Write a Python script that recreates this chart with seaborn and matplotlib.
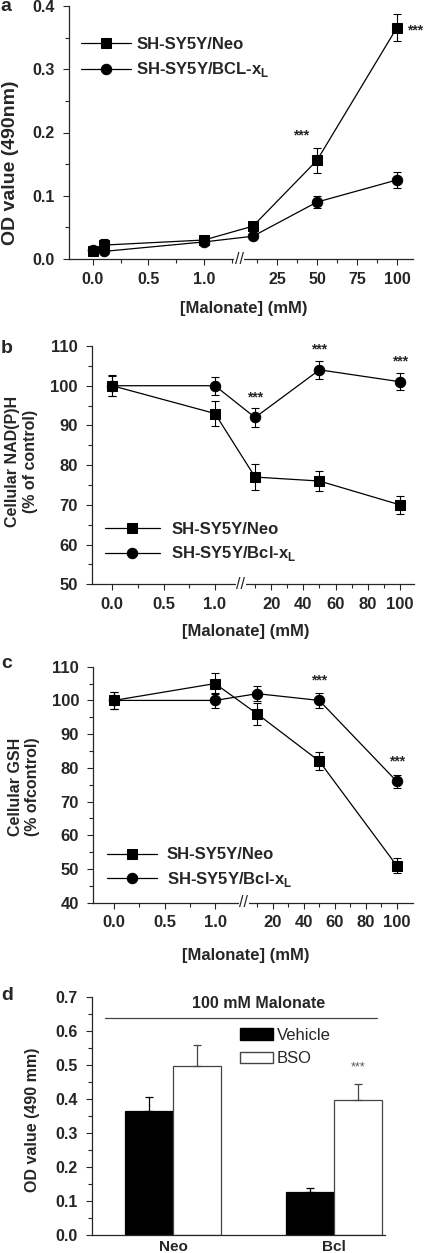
import numpy as np
import pandas as pd
import matplotlib
matplotlib.use("Agg")
import matplotlib.pyplot as plt
import seaborn as sns
from matplotlib.patches import Patch

# ---- values ----
# panel a: OD value (490 nm)
conc_a = [0.0, 0.1, 1.0, 10.0, 50.0, 100.0]
neo_a = [0.012, 0.022, 0.030, 0.052, 0.156, 0.366]
neo_a_sem = [0.003, 0.009, 0.003, 0.004, 0.020, 0.022]
bcl_a = [0.015, 0.012, 0.027, 0.036, 0.090, 0.125]
bcl_a_sem = [0.003, 0.003, 0.003, 0.003, 0.010, 0.013]

# panels b and c share the concentrations
conc_bc = [0.0, 1.0, 10.0, 50.0, 100.0]
neo_b = [100, 93, 77, 76, 70]
neo_b_sem = [2.6, 3.2, 3.2, 2.6, 2.3]
bcl_b = [100, 100, 92, 104, 101]
bcl_b_sem = [2.5, 2.3, 2.3, 2.3, 2.1]

neo_c = [100, 105, 96, 82, 51]
neo_c_sem = [2.5, 3.2, 3.2, 2.6, 2.3]
bcl_c = [100, 100, 102, 100, 76]
bcl_c_sem = [2.5, 2.3, 2.3, 2.3, 2.0]

# panel d: 100 mM malonate, vehicle vs BSO
cells_d = ["Neo", "Bcl"]
vehicle_d = [0.365, 0.125]
vehicle_d_sem = [0.040, 0.012]
bso_d = [0.496, 0.397]
bso_d_sem = [0.062, 0.047]

# tick labels
ticks_a = [0.0, 0.5, 1.0, 25, 50, 75, 100]
ticklabels_a = ["0.0", "0.5", "1.0", "25", "50", "75", "100"]
minor_a = [0.25, 0.75, 1.25, 12.5, 37.5, 62.5, 87.5]
ticks_bc = [0.0, 0.5, 1.0, 20, 40, 60, 80, 100]
ticklabels_bc = ["0.0", "0.5", "1.0", "20", "40", "60", "80", "100"]
minor_bc = [0.25, 0.75, 1.25, 10, 30, 50, 70, 90]

sns.set_style("ticks")
plt.rcParams["font.family"] = ["Liberation Sans", "DejaVu Sans"]
plt.rcParams["font.weight"] = "bold"
plt.rcParams["axes.labelweight"] = "bold"
plt.rcParams["mathtext.fontset"] = "custom"
plt.rcParams["mathtext.bf"] = "Liberation Sans:bold"
plt.rcParams["mathtext.rm"] = "Liberation Sans:bold"
plt.rcParams["axes.linewidth"] = 0.9
plt.rcParams["xtick.major.width"] = 0.8
plt.rcParams["ytick.major.width"] = 0.8
plt.rcParams["xtick.minor.width"] = 0.8
plt.rcParams["ytick.minor.width"] = 0.8

W, H = 425, 1253
fig = plt.figure(figsize=(W / 100, H / 100), dpi=100)


def px_axes(x0, y0, x1, y1):
    return fig.add_axes([x0 / W, 1 - y1 / H, (x1 - x0) / W, (y1 - y0) / H])


def broken_scale(p0, k0, p1, k1):
    # two linear pieces (low doses / high doses) joined at the axis break
    brk = (p1 - p0) / (k0 - k1)
    pb = p0 + k0 * brk

    def fwd(x):
        x = np.asarray(x, dtype=float)
        return np.where(x <= brk, p0 + k0 * x, p1 + k1 * x)

    def inv(p):
        p = np.asarray(p, dtype=float)
        return np.where(p <= pb, (p - p0) / k0, (p - p1) / k1)

    return fwd, inv, brk


def dose_panel(ax, conc, neo, neo_sem, bcl, bcl_sem, bcl_label, scale, xlim,
               ylim, yticks, yminor, yfmt, ticks, ticklabels, minor, tsize):
    for y, err, m, lab in [(neo, neo_sem, "s", "SH-SY5Y/Neo"),
                           (bcl, bcl_sem, "o", bcl_label)]:
        ax.errorbar(conc, y, yerr=err, fmt="none", ecolor="black",
                    elinewidth=0.8, capsize=2.8, capthick=0.8, zorder=2)
        sns.lineplot(x=conc, y=y, marker=m, markersize=7.5, color="black",
                     markeredgecolor="black", linewidth=0.9, label=lab, ax=ax,
                     zorder=3)
    fwd, inv, brk = scale
    ax.set_xscale("function", functions=(fwd, inv))
    ax.set_xlim(*xlim)
    ax.set_ylim(*ylim)
    ax.set_xticks(ticks)
    ax.set_xticklabels(ticklabels)
    ax.set_xticks(minor, minor=True)
    ax.set_yticks(yticks)
    ax.set_yticklabels([yfmt.format(v) for v in yticks])
    ax.set_yticks(yminor, minor=True)
    ax.tick_params(axis="both", which="major", length=4, labelsize=tsize)
    ax.tick_params(axis="both", which="minor", length=3)
    ax.tick_params(axis="x", pad=5)
    ax.tick_params(axis="y", pad=6)
    sns.despine(ax=ax)
    ax.text(brk, 0, "//", transform=ax.get_xaxis_transform(), ha="center",
            va="center", fontsize=11.5, fontweight="normal", zorder=10,
            clip_on=False, bbox=dict(fc="white", ec="none", pad=0.2))
    ax.set_xlabel("[Malonate] (mM)", fontsize=12)


def stars(ax, x, y, dx=0, dy=14.5, **kw):
    ax.annotate("***", (x, y), xytext=(dx, dy), textcoords="offset points",
                ha="center", va="center", fontsize=10, fontweight="bold", **kw)


# ---- panel a ----
ax_a = px_axes(69, 6, 413, 259)
dose_panel(ax_a, conc_a, neo_a, neo_a_sem, bcl_a, bcl_a_sem,
           r"SH-SY5Y/BCL-x$_{\mathbf{L}}$", broken_scale(92.7, 111.3, 237, 1.6),
           (-0.213, 110), (0, 0.4), [0, 0.1, 0.2, 0.3, 0.4],
           [0.05, 0.15, 0.25, 0.35], "{:.1f}", ticks_a, ticklabels_a, minor_a,
           11.5)
ax_a.set_ylabel("OD value (490nm)", fontsize=14)
ax_a.yaxis.set_label_coords(-0.146, 0.38)
ax_a.xaxis.set_label_coords(0.509, -0.165)
ax_a.legend(loc="upper left", bbox_to_anchor=(0.035, 0.877), frameon=False,
            fontsize=12, handlelength=3.0, handletextpad=0.3, labelspacing=0.5,
            borderpad=0, borderaxespad=0)
stars(ax_a, conc_a[4], neo_a[4], dx=-11.5, dy=18)
stars(ax_a, conc_a[5], neo_a[5], dx=13, dy=-2)

# ---- panel b ----
ax_b = px_axes(91.7, 346, 414, 584.3)
dose_panel(ax_b, conc_bc, neo_b, neo_b_sem, bcl_b, bcl_b_sem,
           r"SH-SY5Y/Bcl-x$_{\mathbf{L}}$", broken_scale(112.3, 102.7, 239, 1.61),
           (-0.2, 108.7), (50, 110), list(range(50, 111, 10)),
           list(range(55, 110, 10)), "{:d}", ticks_bc, ticklabels_bc, minor_bc,
           12)
ax_b.set_ylabel("Cellular NAD(P)H\n(% of control)", fontsize=11.5)
ax_b.yaxis.set_label_coords(-0.167, 0.514)
ax_b.xaxis.set_label_coords(0.479, -0.167)
ax_b.legend(loc="upper left", bbox_to_anchor=(0.04, 0.262), frameon=False,
            fontsize=12, handlelength=3.3, handletextpad=0.7, labelspacing=0.45,
            borderpad=0, borderaxespad=0)
for i in (2, 3, 4):
    stars(ax_b, conc_bc[i], bcl_b[i])

# ---- panel c ----
ax_c = px_axes(93, 666.7, 412.7, 902.7)
dose_panel(ax_c, conc_bc, neo_c, neo_c_sem, bcl_c, bcl_c_sem,
           r"SH-SY5Y/Bcl-x$_{\mathbf{L}}$", broken_scale(114, 101, 241.7, 1.55),
           (-0.208, 110.3), (40, 110), list(range(40, 111, 10)),
           list(range(45, 110, 10)), "{:d}", ticks_bc, ticklabels_bc, minor_bc,
           12)
ax_c.set_ylabel("Cellular GSH\n(% ofcontrol)", fontsize=11.5)
ax_c.yaxis.set_label_coords(-0.166, 0.49)
ax_c.xaxis.set_label_coords(0.478, -0.19)
ax_c.legend(loc="upper left", bbox_to_anchor=(0.045, 0.234), frameon=False,
            fontsize=12, handlelength=2.95, handletextpad=0.6, labelspacing=0.45,
            borderpad=0, borderaxespad=0)
for i in (3, 4):
    stars(ax_c, conc_bc[i], bcl_c[i])

# ---- panel d ----
ax_d = px_axes(92, 997.3, 385, 1234.7)
df_d = pd.DataFrame({
    "cells": cells_d * 2,
    "treatment": ["Vehicle"] * 2 + ["BSO"] * 2,
    "od": vehicle_d + bso_d,
})
sns.barplot(data=df_d, x="cells", y="od", hue="treatment",
            palette={"Vehicle": "black", "BSO": "white"}, saturation=1,
            width=0.6, errorbar=None, legend=False, ax=ax_d)
edge = {"Vehicle": "black", "BSO": "#444444"}
for cont, name, sem in zip(ax_d.containers, ["Vehicle", "BSO"],
                           [vehicle_d_sem, bso_d_sem]):
    xs, hs = [], []
    for bar in cont:
        bar.set_edgecolor(edge[name])
        bar.set_linewidth(0.9)
        xs.append(bar.get_x() + bar.get_width() / 2)
        hs.append(bar.get_height())
    ax_d.errorbar(xs, hs, yerr=[np.zeros(len(sem)), sem], fmt="none",
                  ecolor=edge[name], elinewidth=0.9, capsize=2.8, capthick=0.9,
                  zorder=1)
    if name == "BSO":
        ax_d.annotate("***", (xs[1], hs[1] + sem[1]), xytext=(0, 12),
                      textcoords="offset points", ha="center", va="center",
                      fontsize=9, fontweight="normal", color="#555555")
ax_d.set_xlim(-0.503, 1.317)
ax_d.set_ylim(0, 0.7)
yt = [0, 0.1, 0.2, 0.3, 0.4, 0.5, 0.6, 0.7]
ax_d.set_yticks(yt)
ax_d.set_yticklabels(["{:.1f}".format(v) for v in yt])
ax_d.set_yticks([0.05, 0.15, 0.25, 0.35, 0.45, 0.55, 0.65], minor=True)
ax_d.tick_params(axis="y", which="major", length=4, labelsize=11.5, pad=6)
ax_d.tick_params(axis="y", which="minor", length=3)
ax_d.tick_params(axis="x", length=0, labelsize=11, pad=4)
sns.despine(ax=ax_d)
ax_d.set_xlabel("")
ax_d.set_ylabel("OD value (490 mm)", fontsize=11.5)
ax_d.yaxis.set_label_coords(-0.177, 0.483)
ax_d.plot([0.044, 0.973], [0.639, 0.639], color="#444444", linewidth=0.9,
          transform=ax_d.get_yaxis_transform(), clip_on=False)
ax_d.text(0.567, 0.683, "100 mM Malonate", transform=ax_d.get_yaxis_transform(),
          ha="center", va="center", fontsize=11.5, fontweight="bold")
ax_d.legend(handles=[Patch(facecolor="black", edgecolor="black", label="Vehicle"),
                     Patch(facecolor="white", edgecolor="#444444", label="BSO")],
            loc="upper left", bbox_to_anchor=(0.505, 0.87), frameon=False,
            prop={"size": 12, "weight": "normal"}, handlelength=2.0,
            handleheight=0.7, handletextpad=0.2, labelspacing=0.5,
            borderpad=0, borderaxespad=0)

# panel letters
for letter, base in zip("abcd", [11, 353, 668, 1000]):
    fig.text(0.002, 1 - base / H, letter, ha="left", va="baseline",
             fontsize=14, fontweight="bold")

fig.savefig("out.png", dpi=100)
